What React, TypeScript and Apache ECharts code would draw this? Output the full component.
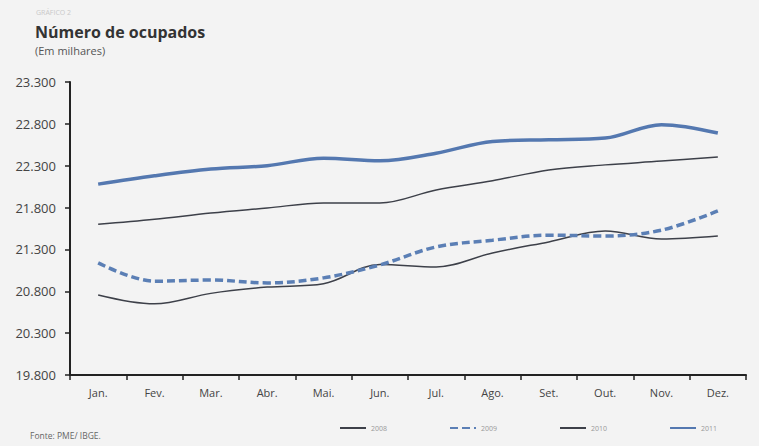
import React, { useEffect, useRef } from "react";
import * as echarts from "echarts";

const months = ["Jan.", "Fev.", "Mar.", "Abr.", "Mai.", "Jun.", "Jul.", "Ago.", "Set.", "Out.", "Nov.", "Dez."];
const s2008 = [20756, 20650, 20775, 20850, 20890, 21120, 21090, 21258, 21390, 21520, 21425, 21460];
const s2009 = [21140, 20920, 20935, 20900, 20960, 21115, 21330, 21410, 21470, 21460, 21530, 21760];
const s2010 = [21600, 21660, 21735, 21795, 21855, 21855, 22010, 22120, 22250, 22310, 22355, 22405];
const s2011 = [22080, 22180, 22260, 22300, 22390, 22360, 22450, 22590, 22610, 22630, 22790, 22690];
const yMin = 19800;
const yMax = 23300;
const yStep = 500;

const fmt = (v: number) => {
  const s = String(Math.round(v));
  return s.slice(0, s.length - 3) + "." + s.slice(s.length - 3);
};

export default function App() {
  const ref = useRef<HTMLDivElement>(null);
  useEffect(() => {
    document.body.style.margin = "0";
    const chart = echarts.init(ref.current!, undefined, { renderer: "svg" });
    const off = (arr: number[]) => arr.map((v) => v - yMin);
    const font = "'Open Sans', 'Noto Sans', sans-serif";
    chart.setOption({
      animation: false,
      backgroundColor: "#f3f3f3",
      textStyle: { fontFamily: font },
      graphic: [
        { type: "text", left: 36, top: 9, style: { text: "GRÁFICO 2", fontSize: 7, fill: "#c9c9c9", fontFamily: font } },
        { type: "text", left: 35, top: 24, style: { text: "Número de ocupados", fontSize: 16, fontWeight: "bold", fill: "#333", fontFamily: font } },
        { type: "text", left: 35, top: 45, style: { text: "(Em milhares)", fontSize: 11, fill: "#555", fontFamily: font } },
        { type: "text", left: 30, top: 431, style: { text: "Fonte: PME/ IBGE.", fontSize: 8.5, fill: "#666", fontFamily: font } },
      ],
      grid: { left: 70, right: 13, top: 82, bottom: 71 },
      legend: {
        left: 334,
        top: 419,
        itemWidth: 26,
        itemHeight: 10,
        itemGap: 62,
        itemStyle: { opacity: 0 },
        textStyle: { fontSize: 7, color: "#999", fontFamily: font },
        data: ["2008", "2009", "2010", "2011"],
      },
      xAxis: {
        type: "category",
        data: months,
        boundaryGap: true,
        axisLine: { lineStyle: { color: "#222", width: 2 } },
        axisTick: { show: true, length: 5, lineStyle: { color: "#222", width: 1.5 } },
        axisLabel: { color: "#444", fontSize: 11, margin: 12, fontFamily: font },
      },
      yAxis: {
        type: "value",
        min: 0,
        max: yMax - yMin,
        interval: yStep,
        splitLine: { show: false },
        axisLine: { show: true, lineStyle: { color: "#222", width: 2 } },
        axisTick: { show: true, length: 5, lineStyle: { color: "#222", width: 1.5 } },
        axisLabel: { color: "#444", fontSize: 13, margin: 14, fontFamily: font, formatter: (v: number) => fmt(v + yMin) },
      },
      series: [
        { name: "2008", type: "line", smooth: 0.35, symbol: "none", data: off(s2008), lineStyle: { color: "#3d4049", width: 1.5 }, itemStyle: { color: "#3d4049" } },
        { name: "2009", type: "line", smooth: 0.35, symbol: "none", data: off(s2009), lineStyle: { color: "#5b7fb5", width: 3.5, type: [8, 4] }, itemStyle: { color: "#5b7fb5" } },
        { name: "2010", type: "line", smooth: 0.35, symbol: "none", data: off(s2010), lineStyle: { color: "#3d4049", width: 1.5 }, itemStyle: { color: "#3d4049" } },
        { name: "2011", type: "line", smooth: 0.35, symbol: "none", data: off(s2011), lineStyle: { color: "#5478b0", width: 3.5 }, itemStyle: { color: "#5478b0" } },
      ],
    });
    return () => chart.dispose();
  }, []);
  return <div ref={ref} style={{ width: 759, height: 446 }} />;
}
